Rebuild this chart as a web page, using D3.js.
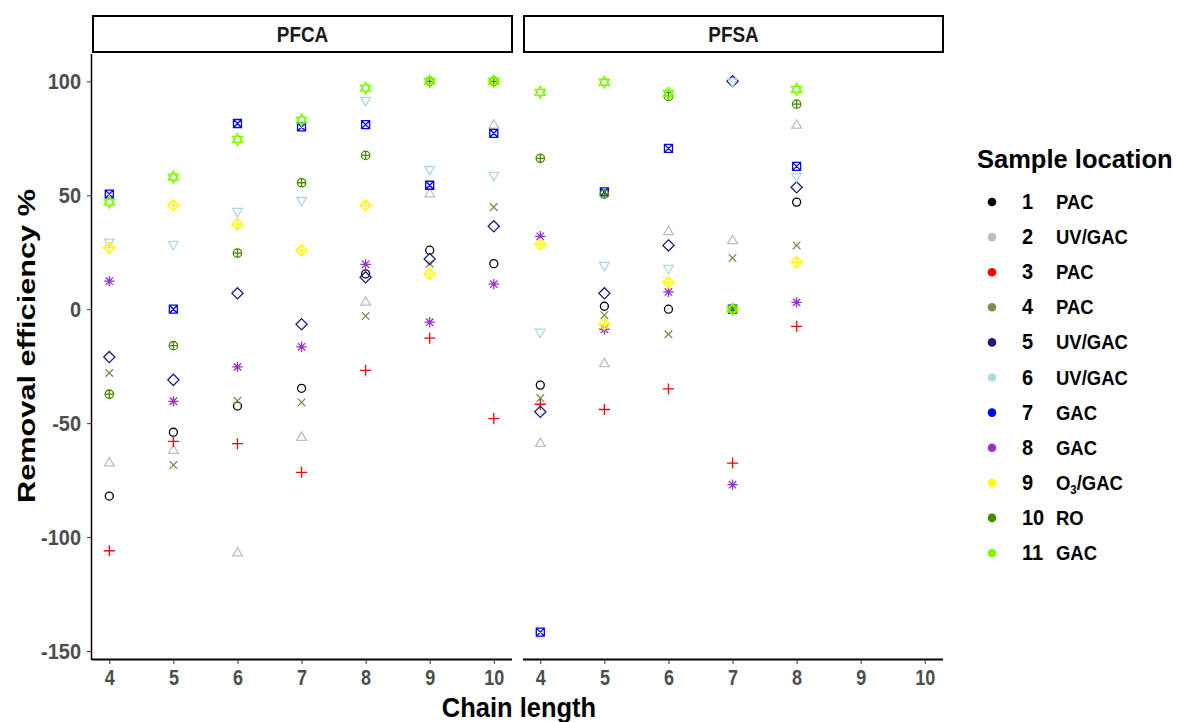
<!DOCTYPE html>
<html>
<head>
<meta charset="utf-8">
<script src="https://cdn.jsdelivr.net/npm/d3@7"></script>
<style>
  body { margin: 0; background: #fff; }
  text { font-family: "Liberation Sans", Arial, sans-serif; font-weight: bold; }
</style>
</head>
<body>
<div id="chart"></div>
<script>
// chain lengths on x, one value per chain (null = not measured)
var chains = [4, 5, 6, 7, 8, 9, 10];
var panels = ["PFCA", "PFSA"];
var sampleIds = ["1", "2", "3", "4", "5", "6", "7", "8", "9", "10", "11"];
var sampleTypes = ["PAC", "UV/GAC", "PAC", "PAC", "UV/GAC", "UV/GAC", "GAC", "GAC", "O3/GAC", "RO", "GAC"];
var sampleColors = ["#000000", "#bebebe", "#ff0000", "#8b864e", "#1e1e78", "#add8e6",
                    "#0000ff", "#9932cc", "#ffff00", "#458b00", "#7cfc00"];
var yTicks = [100, 50, 0, -50, -100, -150];

// PFCA removal efficiency %, per sample location
var pfca1 = [-82, -54, -42.5, -34.7, 15.5, 25.9, 20];
var pfca2 = [-67.5, -62, -107, -56.3, 3, 50.5, 80.7];
var pfca3 = [-106, -58, -59, -71.6, -26.8, -12.7, -48];
var pfca4 = [-28, -68.4, -40.2, -40.9, -3, 20, 44.8];
var pfca5 = [-21, -31, 7, -6.6, 14, 22, 36.4];
var pfca6 = [29.5, 28.5, 43, 47.8, 91.7, 61.4, 58.8];
var pfca7 = [50.5, 0, 81.5, 80, 81, 54.4, 77.2];
var pfca8 = [12.3, -40.4, -25.3, -16.5, 19.7, -5.7, 11];
var pfca9 = [27, 45.6, 37.3, 25.9, 45.6, 15.4, 100];
var pfca10 = [-37.3, -16, 24.6, 55.5, 67.5, 100, 100];
var pfca11 = [47, 58, 74.5, 83, 97, 100, 100];

// PFSA removal efficiency %, per sample location
var pfsa1 = [-33.3, 1.3, 0, 0, 47, null, null];
var pfsa2 = [-59, -24, 34, 30, 80.7, null, null];
var pfsa3 = [-41.7, -44, -35, -67.5, -7.5, null, null];
var pfsa4 = [-39, -2.6, -11, 22.5, 28, null, null];
var pfsa5 = [-45, 7, 28, 100, 53.5, null, null];
var pfsa6 = [-10, 19.3, 18, 100, 58.3, null, null];
var pfsa7 = [-141.7, 51.5, 70.6, 0, 62.7, null, null];
var pfsa8 = [32, -8.8, 7.6, -77, 3, null, null];
var pfsa9 = [28.5, -6.6, 11.8, 0, 20.6, null, null];
var pfsa10 = [66.2, 50.5, 93.4, 0, 90, null, null];
var pfsa11 = [95.2, 99.6, 94.7, 0, 96.5, null, null];

var panelValues = {
    PFCA: [pfca1, pfca2, pfca3, pfca4, pfca5, pfca6, pfca7, pfca8, pfca9, pfca10, pfca11],
    PFSA: [pfsa1, pfsa2, pfsa3, pfsa4, pfsa5, pfsa6, pfsa7, pfsa8, pfsa9, pfsa10, pfsa11]
};


FacetScatter = function(_parentElement){
    this.parentElement = _parentElement;
    this.initVis();
}

FacetScatter.prototype.initVis = function(){
    var vis = this;

    vis.width = 1178;
    vis.height = 722;
    vis.panelTop = 54;
    vis.panelBottom = 659;
    vis.panelLeft = [92, 523];
    vis.panelWidth = 421;

    vis.svg = d3.select("#" + vis.parentElement).append("svg")
        .attr("width", vis.width)
        .attr("height", vis.height);

    vis.y = d3.scaleLinear()
        .domain([-153.5, 112])
        .range([vis.panelBottom, vis.panelTop]);

    vis.x = d3.scaleLinear()
        .domain([3.73, 10.3])
        .range([0, vis.panelWidth]);

    // flatten to rows, sample order = draw order
    vis.rows = [];
    panels.forEach(function(p){
        panelValues[p].forEach(function(vals, si){
            vals.forEach(function(v, ci){
                if (v !== null) vis.rows.push({panel: p, sample: si, chain: chains[ci], value: v});
            });
        });
    });

    vis.updateVis();
}

// ggplot-like shapes 1..11, drawn around 0,0
FacetScatter.prototype.shapePath = function(i){
    var p = d3.path();
    var tri = function(dir, r){
        p.moveTo(0, -dir * r);
        p.lineTo(r * 0.866, dir * r * 0.5);
        p.lineTo(-r * 0.866, dir * r * 0.5);
        p.closePath();
    };
    var plus = function(r){ p.moveTo(-r, 0); p.lineTo(r, 0); p.moveTo(0, -r); p.lineTo(0, r); };
    var cross = function(r){ p.moveTo(-r, -r); p.lineTo(r, r); p.moveTo(-r, r); p.lineTo(r, -r); };
    var diamond = function(r){ p.moveTo(0, -r); p.lineTo(r, 0); p.lineTo(0, r); p.lineTo(-r, 0); p.closePath(); };

    switch (i) {
        case 0: p.moveTo(4, 0); p.arc(0, 0, 4, 0, 2 * Math.PI); break;
        case 1: tri(1, 5.6); break;
        case 2: plus(5.5); break;
        case 3: cross(3.8); break;
        case 4: diamond(5.6); break;
        case 5: tri(-1, 5.6); break;
        case 6: p.rect(-4, -4, 8, 8); cross(4); break;
        case 7: plus(5.2); cross(3.7); break;
        case 8: diamond(5.6); plus(5.6); break;
        case 9: p.moveTo(4.2, 0); p.arc(0, 0, 4.2, 0, 2 * Math.PI); plus(4.2); break;
        case 10: tri(1, 6); tri(-1, 6); break;
    }
    return p.toString();
}

FacetScatter.prototype.updateVis = function(){
    var vis = this;

    panels.forEach(function(p, pi){
        var x0 = vis.panelLeft[pi];
        var g = vis.svg.append("g").attr("transform", "translate(" + x0 + ",0)");

        // strip
        g.append("rect")
            .attr("x", 1).attr("y", 16)
            .attr("width", vis.panelWidth - 2).attr("height", 36)
            .attr("fill", "#fff").attr("stroke", "#000").attr("stroke-width", 2);
        g.append("text")
            .attr("transform", "translate(" + (vis.panelWidth / 2) + ",42) scale(1.05,1.2)")
            .attr("text-anchor", "middle")
            .style("font-size", "18px")
            .attr("fill", "#1a1a1a")
            .text(p);

        // x axis
        var xAxis = g.append("g")
            .attr("transform", "translate(0," + vis.panelBottom + ")")
            .call(d3.axisBottom(vis.x).tickValues(chains).tickSize(5).tickFormat(function(d){ return String(d); }));
        xAxis.select(".domain").attr("stroke", "#000").attr("stroke-width", 2)
            .attr("d", "M0,0.5H" + (vis.panelWidth - 1));
        xAxis.selectAll(".tick line").attr("stroke", "#333").attr("stroke-width", 1);
        xAxis.selectAll(".tick text")
            .attr("y", 0).attr("dy", 0)
            .attr("transform", "translate(0,26) scale(1,1.18)")
            .attr("fill", "#4d4d4d")
            .style("font-size", "18px");

        // y axis only on first panel
        if (pi === 0) {
            var yAxis = g.append("g")
                .call(d3.axisLeft(vis.y).tickValues(yTicks).tickSize(5).tickFormat(function(d){ return String(d); }));
            yAxis.select(".domain").attr("stroke", "#000").attr("stroke-width", 1.5)
                .attr("d", "M-0.5," + vis.panelTop + "V" + (vis.panelBottom + 1));
            yAxis.selectAll(".tick line").attr("stroke", "#333");
            yAxis.selectAll(".tick text")
                .attr("x", 0).attr("dy", 0)
                .attr("transform", "translate(-11,7) scale(1.05,1.15)")
                .attr("fill", "#4d4d4d")
                .style("font-size", "19px");
        }

        // points
        g.selectAll(".pt")
            .data(vis.rows.filter(function(d){ return d.panel === p; }))
            .enter().append("path")
            .attr("class", "pt")
            .attr("transform", function(d){ return "translate(" + vis.x(d.chain) + "," + vis.y(d.value) + ")"; })
            .attr("d", function(d){ return vis.shapePath(d.sample); })
            .attr("fill", "none")
            .attr("stroke", function(d){ return sampleColors[d.sample]; })
            .attr("stroke-width", 1.3);
    });

    // axis titles
    vis.svg.append("text")
        .attr("transform", "translate(519,717) scale(1.02,1.12)")
        .attr("text-anchor", "middle")
        .style("font-size", "25px")
        .text("Chain length");
    vis.svg.append("text")
        .attr("transform", "translate(35,346) rotate(-90) scale(1.28,1)")
        .attr("text-anchor", "middle")
        .style("font-size", "24px")
        .text("Removal efficiency %");

    // legend
    var leg = vis.svg.append("g");
    leg.append("text")
        .attr("x", 977).attr("y", 168)
        .style("font-size", "25.5px")
        .text("Sample location");

    var items = leg.selectAll(".item")
        .data(sampleIds)
        .enter().append("g")
        .attr("class", "item")
        .attr("transform", function(d, i){ return "translate(0," + (202 + i * 35.1) + ")"; });

    items.append("circle")
        .attr("cx", 992).attr("cy", 0).attr("r", 4.3)
        .attr("fill", function(d, i){ return sampleColors[i]; });
    items.append("text")
        .attr("transform", "translate(1022,7) scale(1,1.12)")
        .style("font-size", "20px")
        .text(function(d){ return d; });

    var labels = items.append("text")
        .attr("transform", "translate(1056,7) scale(0.88,1)")
        .style("font-size", "21px");
    labels.each(function(d, i){
        var t = d3.select(this);
        var s = sampleTypes[i];
        if (s.indexOf("O3") === 0) {
            t.append("tspan").text("O");
            t.append("tspan").attr("dy", 4).style("font-size", "13px").text("3");
            t.append("tspan").attr("dy", -4).text(s.slice(2));
        } else {
            t.text(s);
        }
    });
}

new FacetScatter("chart");
</script>
</body>
</html>
